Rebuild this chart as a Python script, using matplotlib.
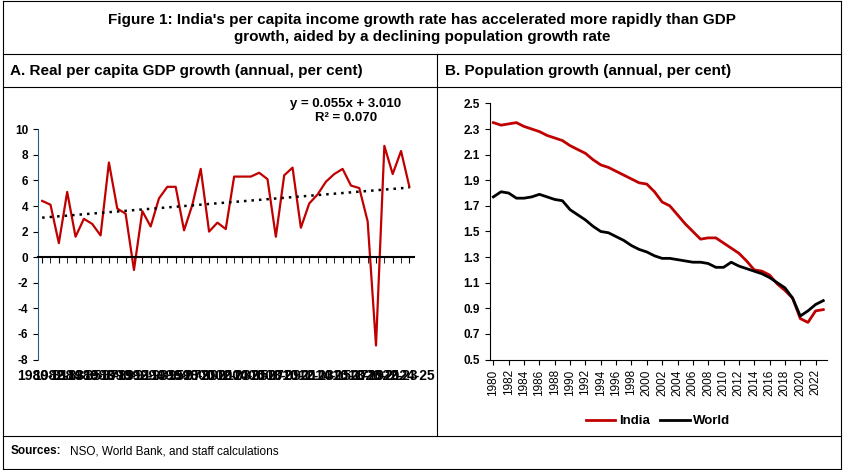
import matplotlib.pyplot as plt
import numpy as np

plt.rcParams['font.family'] = ['Liberation Sans', 'DejaVu Sans']
plt.rcParams['font.weight'] = 'bold'
plt.rcParams['axes.unicode_minus'] = False

# Panel A: real per capita GDP growth
fy = [f"{y}-{str(y + 1)[-2:]}" for y in range(1980, 2025)]
gdp_pc = [4.4, 4.1, 1.1, 5.1, 1.6, 3.0, 2.6, 1.7, 7.4, 3.8,
          3.4, -1.0, 3.6, 2.4, 4.6, 5.5, 5.5, 2.1, 4.1, 6.9,
          2.0, 2.7, 2.2, 6.3, 6.3, 6.3, 6.6, 6.1, 1.6, 6.4,
          7.0, 2.3, 4.2, 4.9, 5.9, 6.5, 6.9, 5.6, 5.4, 2.8,
          -6.9, 8.7, 6.5, 8.3, 5.5]

# Panel B: population growth
years = list(range(1980, 2024))
india = [2.35, 2.33, 2.34, 2.35, 2.32, 2.30, 2.28, 2.25, 2.23, 2.21,
         2.17, 2.14, 2.11, 2.06, 2.02, 2.00, 1.97, 1.94, 1.91, 1.88,
         1.87, 1.81, 1.73, 1.70, 1.63, 1.56, 1.50, 1.44, 1.45, 1.45,
         1.41, 1.37, 1.33, 1.27, 1.20, 1.19, 1.16, 1.09, 1.04, 0.98,
         0.82, 0.79, 0.88, 0.89]
world = [1.77, 1.81, 1.80, 1.76, 1.76, 1.77, 1.79, 1.77, 1.75, 1.74,
         1.67, 1.63, 1.59, 1.54, 1.50, 1.49, 1.46, 1.43, 1.39, 1.36,
         1.34, 1.31, 1.29, 1.29, 1.28, 1.27, 1.26, 1.26, 1.25, 1.22,
         1.22, 1.26, 1.23, 1.21, 1.19, 1.17, 1.14, 1.10, 1.06, 0.98,
         0.84, 0.88, 0.93, 0.96]

red = '#C00000'
fig = plt.figure(figsize=(8.44, 4.70), dpi=100)

# frame lines
def hline(y, x0=0.003, x1=0.997):
    fig.add_artist(plt.Line2D([x0, x1], [y, y], color='black', lw=0.8))

hline(0.997); hline(0.885); hline(0.815); hline(0.072); hline(0.003)
for x in (0.003, 0.997):
    fig.add_artist(plt.Line2D([x, x], [0.003, 0.997], color='black', lw=0.8))
fig.add_artist(plt.Line2D([0.518, 0.518], [0.072, 0.885], color='black', lw=0.8))

fig.text(0.5, 0.94, "Figure 1: India's per capita income growth rate has accelerated more rapidly than GDP\ngrowth, aided by a declining population growth rate",
         ha='center', va='center', fontsize=11, linespacing=1.3)
fig.text(0.012, 0.85, "A. Real per capita GDP growth (annual, per cent)", ha='left', va='center', fontsize=11)
fig.text(0.527, 0.85, "B. Population growth (annual, per cent)", ha='left', va='center', fontsize=11)
fig.text(0.012, 0.04, "Sources:", ha='left', va='center', fontsize=8.5)
fig.text(0.083, 0.04, "NSO, World Bank, and staff calculations", ha='left', va='center',
         fontsize=8.5, fontweight='normal')

# Panel A
ax1 = fig.add_axes([0.045, 0.235, 0.445, 0.49])
x = np.arange(len(gdp_pc))
ax1.plot(x, gdp_pc, color=red, lw=1.6)
slope, icpt = np.polyfit(x + 1, gdp_pc, 1)
ax1.plot(x, slope * (x + 1) + icpt, color='black', ls=(0, (1, 2)), lw=1.8)
ax1.set_ylim(-8, 10)
ax1.set_yticks(range(-8, 11, 2))
ax1.set_xlim(-0.5, len(x) - 0.5)
ax1.set_xticks(x, minor=True)
ax1.set_xticks(x[::2])
ax1.set_xticklabels(fy[::2], rotation=90, fontsize=8.5, fontweight='normal')
ax1.tick_params(axis='y', labelsize=8.5)
ax1.spines[['top', 'right']].set_visible(False)
ax1.spines['left'].set_color('#1F5C8B')
ax1.spines['bottom'].set_position(('data', 0))
ax1.spines['bottom'].set_linewidth(1.5)
# labels sit below the plot area, not at the zero line
zero_px = 0.49 * 470 * 8 / 18
ax1.tick_params(axis='x', which='both', direction='out', length=4)
ax1.tick_params(axis='x', which='major', pad=zero_px * 72 / 100 + 3)
ax1.text(0.82, 1.08, "y = 0.055x + 3.010\nR² = 0.070", transform=ax1.transAxes,
         ha='center', va='center', fontsize=9.5, linespacing=1.2)

# Panel B
ax2 = fig.add_axes([0.58, 0.235, 0.40, 0.545])
ax2.plot(years, india, color=red, lw=2, label='India')
ax2.plot(years, world, color='black', lw=2, label='World')
ax2.set_ylim(0.5, 2.5)
ax2.set_yticks(np.arange(0.5, 2.51, 0.2))
ax2.set_yticklabels([f"{v:.1f}" for v in np.arange(0.5, 2.51, 0.2)], fontsize=8.5)
ax2.set_xlim(1979.5, 2023.5)
ax2.set_xticks(years[::2])
ax2.set_xticklabels(years[::2], rotation=90, fontsize=8.5, fontweight='normal')
ax2.spines[['top', 'right']].set_visible(False)
ax2.legend(loc='upper center', bbox_to_anchor=(0.5, -0.17), ncol=2, frameon=False,
           fontsize=9.5, handlelength=2.2, columnspacing=0.8, handletextpad=0.3)

fig.savefig('out.png', dpi=100)
